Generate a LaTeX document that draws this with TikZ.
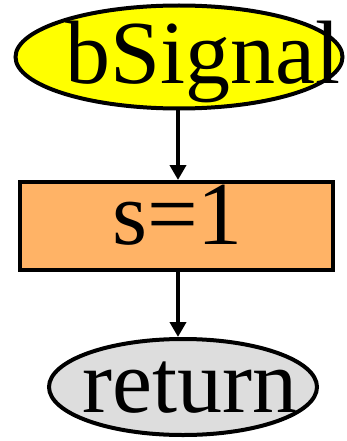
\documentclass[tikz,border=0pt]{standalone}
\usepackage{fontspec}
\setmainfont{Liberation Serif}
\usetikzlibrary{shapes.geometric,arrows.meta}
\definecolor{startyellow}{HTML}{FFFF00}
\definecolor{boxorange}{HTML}{FFB366}
\definecolor{endgray}{HTML}{DDDDDD}
\tikzset{
  base/.style={draw=black, line width=4pt, inner sep=0pt},
  txt/.style={inner sep=0pt, anchor=base west, font=\fontsize{90}{94}\selectfont},
  startnode/.style={base, ellipse, fill=startyellow},
  boxnode/.style={base, rectangle, fill=boxorange},
  endnode/.style={base, ellipse, fill=endgray},
  flow/.style={draw=black, line width=4pt, -{Triangle[length=15pt,width=16pt]}}
}
\begin{document}
\begin{tikzpicture}[x=1pt,y=1pt]
\useasboundingbox (0,0) rectangle (347,-441);
\node[startnode, minimum width=327pt, minimum height=103pt] (start) at (179,-57) {};
\node[txt] (starttext) at (65,-84) {bSignal};
\node[boxnode, minimum width=313pt, minimum height=88pt] (assign) at (176,-226) {};
\node[txt] (assigntext) at (112,-244) {s=1};
\node[endnode, minimum width=268pt, minimum height=96pt] (ret) at (183,-387) {};
\node[txt] (rettext) at (82,-412) {return};
\coordinate (a1) at (178,-110);
\coordinate (a2) at (178,-180);
\coordinate (b1) at (178,-271);
\coordinate (b2) at (178,-337);
\draw[flow] (a1) -- (a2);
\draw[flow] (b1) -- (b2);
\end{tikzpicture}
\end{document}
